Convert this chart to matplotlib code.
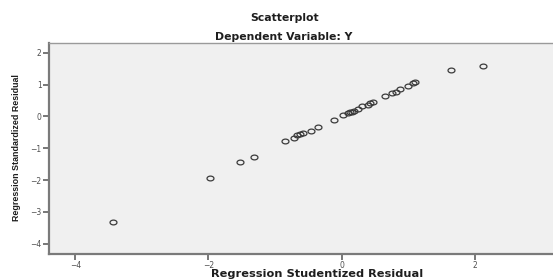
import numpy as np
import matplotlib
matplotlib.use("Agg")
import matplotlib.pyplot as plt
from matplotlib.path import Path

# Data
studentized = [-3.44, -1.98, -1.53, -1.31, -0.85, -0.71, -0.67, -0.62, -0.575, -0.46,
               -0.35, -0.12, 0.02, 0.09, 0.13, 0.16, 0.19, 0.25, 0.31, 0.40,
               0.43, 0.47, 0.645, 0.75, 0.81, 0.88, 0.997, 1.07, 1.10, 1.64, 2.12]
standardized = [-3.30, -1.92, -1.44, -1.26, -0.77, -0.67, -0.59, -0.56, -0.53, -0.45,
                -0.32, -0.10, 0.03, 0.10, 0.13, 0.15, 0.17, 0.22, 0.31, 0.37,
                0.41, 0.46, 0.63, 0.73, 0.75, 0.85, 0.96, 1.04, 1.07, 1.44, 1.58]
xticks = [-4, -2, 0, 2]
yticks = [-4, -3, -2, -1, 0, 1, 2]

W, H = 553, 279
fig = plt.figure(figsize=(W / 100, H / 100), dpi=100)
fig.patch.set_facecolor("white")
ax = fig.add_axes([0.088, 0.0907, 0.915, 0.756])
ax.set_facecolor("#f0f0f0")

t = np.linspace(0, 2 * np.pi, 41)
ell = Path(np.column_stack([1.45 * np.cos(t), np.sin(t)]))
ax.plot(studentized, standardized, linestyle="none", marker=ell, markersize=5,
        markerfacecolor="none", markeredgecolor="#3a3a3a", markeredgewidth=0.9)

ax.set_xlim(-4.40, 3.2)
ax.set_ylim(-4.31, 2.31)
ax.set_xticks(xticks)
ax.set_yticks(yticks)
ax.tick_params(axis="both", direction="out", length=4, width=1.2, color="#606060",
               labelsize=5.5, labelcolor="#505050", pad=1)

for s in ["left", "bottom"]:
    ax.spines[s].set_color("#7a7a7a")
    ax.spines[s].set_linewidth(1.6)
ax.spines["top"].set_color("#9a9a9a")
ax.spines["top"].set_linewidth(1.0)
ax.spines["right"].set_visible(False)

wide = dict(fontweight="bold", family=["DejaVu Sans"], color="#1e1e1e")

fig.text(317.5 / W, 1 - 277 / H, "Regression Studentized Residual", ha="center",
         va="baseline", fontsize=8.2, **wide)
fig.text(17 / W, 1 - 148 / H, "Regression Standardized Residual", ha="center",
         va="center", rotation=90, fontsize=6.4, fontweight="bold",
         family=["Liberation Sans Narrow", "Liberation Sans", "DejaVu Sans"], color="#1e1e1e")

fig.text(285 / W, 1 - 18.3 / H, "Scatterplot", ha="center", va="center",
         fontsize=7.8, **wide)
fig.text(284 / W, 1 - 37.2 / H, "Dependent Variable: Y", ha="center", va="center",
         fontsize=7.8, **wide)

fig.savefig("out.png", dpi=100)
